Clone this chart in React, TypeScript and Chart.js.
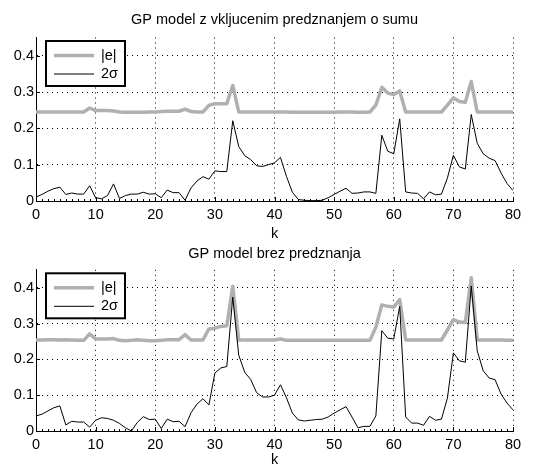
import React, { useEffect, useRef } from "react";
import { Chart, registerables } from "chart.js";

Chart.register(...registerables);

// ---------- data ----------
const kValues: number[] = Array.from({ length: 81 }, (_, i) => i);

const xTicks = [0, 10, 20, 30, 40, 50, 60, 70, 80];
const xTickLabels = ["0", "10", "20", "30", "40", "50", "60", "70", "80"];
const yTicks = [0, 0.1, 0.2, 0.3, 0.4];
const yTickLabels = ["0", "0.1", "0.2", "0.3", "0.4"];

const topTitle = "GP model z vkljucenim predznanjem o sumu";
const bottomTitle = "GP model brez predznanja";
const legendLabels = ["|e|", "2σ"];
const xAxisLabel = "k";

// top plot: |e|
const eTop = [
  0.245, 0.245, 0.245, 0.245, 0.245, 0.245, 0.245, 0.245, 0.245, 0.256,
  0.249, 0.249, 0.249, 0.248, 0.245, 0.244, 0.244, 0.244, 0.244, 0.245,
  0.245, 0.246, 0.247, 0.247, 0.247, 0.253, 0.246, 0.245, 0.245, 0.263,
  0.268, 0.268, 0.268, 0.318, 0.245, 0.245, 0.245, 0.245, 0.245, 0.245,
  0.245, 0.245, 0.245, 0.244, 0.244, 0.244, 0.244, 0.244, 0.244, 0.244,
  0.244, 0.245, 0.245, 0.245, 0.244, 0.244, 0.245, 0.264, 0.313, 0.297,
  0.293, 0.303, 0.245, 0.245, 0.245, 0.245, 0.245, 0.245, 0.245, 0.264,
  0.284, 0.274, 0.272, 0.329, 0.245, 0.245, 0.245, 0.245, 0.245, 0.245,
  0.245,
];
// top plot: 2 sigma
const sTop = [
  0.011, 0.018, 0.027, 0.034, 0.038, 0.018, 0.022, 0.019, 0.019, 0.042,
  0.009, 0.006, 0.015, 0.047, 0.007, 0.015, 0.019, 0.019, 0.024, 0.019,
  0.02, 0.009, 0.03, 0.023, 0.023, 0.002, 0.036, 0.055, 0.067, 0.06,
  0.083, 0.081, 0.081, 0.221, 0.15, 0.125, 0.114, 0.097, 0.095, 0.1,
  0.105, 0.12, 0.068, 0.024, 0.004, 0.002, 0.001, 0.001, 0.002, 0.009,
  0.018, 0.027, 0.035, 0.021, 0.022, 0.025, 0.025, 0.021, 0.181, 0.137,
  0.13, 0.226, 0.025, 0.022, 0.021, 0.006, 0.025, 0.017, 0.019, 0.063,
  0.126, 0.094, 0.088, 0.238, 0.159, 0.13, 0.118, 0.111, 0.077, 0.048,
  0.029,
];
// bottom plot: |e|
const eBottom = [
  0.254, 0.254, 0.255, 0.255, 0.254, 0.255, 0.254, 0.253, 0.253, 0.271,
  0.257, 0.257, 0.257, 0.258, 0.253, 0.252, 0.253, 0.255, 0.253, 0.252,
  0.252, 0.253, 0.255, 0.255, 0.255, 0.269, 0.254, 0.254, 0.254, 0.285,
  0.287, 0.292, 0.294, 0.404, 0.254, 0.254, 0.254, 0.254, 0.254, 0.254,
  0.254, 0.257, 0.253, 0.253, 0.253, 0.253, 0.253, 0.253, 0.253, 0.253,
  0.253, 0.253, 0.253, 0.253, 0.253, 0.253, 0.253, 0.29, 0.352, 0.348,
  0.346, 0.367, 0.254, 0.254, 0.254, 0.254, 0.254, 0.254, 0.254, 0.282,
  0.311, 0.304, 0.303, 0.428, 0.254, 0.254, 0.254, 0.254, 0.254, 0.253,
  0.253,
];
// bottom plot: 2 sigma
const sBottom = [
  0.042, 0.047, 0.056, 0.065, 0.07, 0.017, 0.027, 0.025, 0.025, 0.011,
  0.03, 0.037, 0.035, 0.03, 0.021, 0.009, 0.0, 0.024, 0.04, 0.032,
  0.033, 0.007, 0.033, 0.026, 0.027, 0.012, 0.051, 0.075, 0.09, 0.073,
  0.162, 0.176, 0.18, 0.374, 0.212, 0.164, 0.144, 0.107, 0.095, 0.095,
  0.1, 0.129, 0.093, 0.05, 0.031, 0.028, 0.03, 0.032, 0.033, 0.039,
  0.05, 0.059, 0.068, 0.039, 0.009, 0.013, 0.013, 0.042, 0.28, 0.259,
  0.257, 0.348, 0.039, 0.022, 0.022, 0.016, 0.041, 0.03, 0.033, 0.092,
  0.218, 0.196, 0.192, 0.405, 0.224, 0.168, 0.148, 0.143, 0.103, 0.078,
  0.059,
];

// ---------- style ----------
const FONT = "'Liberation Sans', Arial, Helvetica, sans-serif";
const GRAY = "#b0b0b0";
const FONT_SIZE = 14.5;

const decorPlugin = {
  id: "matlabDecor",
  afterDatasetsDraw(chart: any) {
    const { ctx, chartArea: a, scales } = chart;
    const x = scales.x;
    const y = scales.y;
    ctx.save();
    // inward tick marks
    ctx.strokeStyle = "#000";
    ctx.lineWidth = 1;
    ctx.setLineDash([]);
    ctx.beginPath();
    for (let v = x.min; v <= x.max; v += 1) {
      const px = Math.round(x.getPixelForValue(v)) + 0.5;
      const len = xTicks.includes(v) ? 4 : 2;
      ctx.moveTo(px, a.bottom);
      ctx.lineTo(px, a.bottom - len);
    }
    for (const v of yTicks) {
      const py = Math.round(y.getPixelForValue(v)) + 0.5;
      ctx.moveTo(a.left, py);
      ctx.lineTo(a.left + 4, py);
    }
    ctx.stroke();

    // legend box
    const lx = a.left + 10;
    const ly = a.top + 3.5;
    const w = 79;
    const h = 45;
    ctx.fillStyle = "#fff";
    ctx.fillRect(lx, ly, w, h);
    ctx.lineWidth = 2;
    ctx.strokeStyle = "#000";
    ctx.strokeRect(lx, ly, w, h);
    const rows = [14.5, 33];
    chart.data.datasets.forEach((ds: any, i: number) => {
      const yy = ly + rows[i];
      ctx.strokeStyle = ds.borderColor;
      ctx.lineWidth = ds.borderWidth;
      ctx.beginPath();
      ctx.moveTo(lx + 8, yy);
      ctx.lineTo(lx + 48, yy);
      ctx.stroke();
      ctx.fillStyle = "#000";
      ctx.font = `${FONT_SIZE}px ${FONT}`;
      ctx.textBaseline = "middle";
      ctx.textAlign = "left";
      ctx.fillText(ds.label, lx + 55, yy);
    });
    ctx.restore();
  },
};

type Geom = {
  titleTop: number;
  titleBottom: number;
  xAxisHeight: number;
  kPad: number;
};

function makeConfig(titleText: string, eVals: number[], sVals: number[], g: Geom): any {
  const gridOpts = { color: "#000", lineWidth: 1, drawTicks: false };
  const borderOpts = { display: true, color: "#000", width: 1, dash: [1, 4] };
  const tickFont = { size: FONT_SIZE, family: FONT };
  return {
    type: "line",
    data: {
      datasets: [
        {
          label: legendLabels[0],
          data: kValues.map((k, i) => ({ x: k, y: eVals[i] })),
          borderColor: GRAY,
          borderWidth: 3.5,
          borderJoinStyle: "round",
          pointRadius: 0,
          tension: 0,
          order: 2,
        },
        {
          label: legendLabels[1],
          data: kValues.map((k, i) => ({ x: k, y: sVals[i] })),
          borderColor: "#000",
          borderWidth: 1,
          pointRadius: 0,
          tension: 0,
          order: 1,
        },
      ],
    },
    options: {
      responsive: false,
      animation: false,
      devicePixelRatio: 1,
      events: [],
      layout: { padding: { left: 0, right: 32, top: 0, bottom: 0 } },
      plugins: {
        legend: { display: false },
        tooltip: { enabled: false },
        title: {
          display: true,
          fullSize: false,
          text: titleText,
          color: "#000",
          font: { size: FONT_SIZE, weight: "normal", family: FONT },
          padding: { top: g.titleTop, bottom: g.titleBottom },
        },
      },
      scales: {
        x: {
          type: "linear",
          min: 0,
          max: 80,
          afterBuildTicks: (s: any) => {
            s.ticks = xTicks.map((v) => ({ value: v }));
          },
          afterFit: (s: any) => {
            s.height = g.xAxisHeight;
          },
          ticks: {
            callback: (_v: any, i: number) => xTickLabels[i],
            color: "#000",
            font: tickFont,
            padding: 5.3,
            maxRotation: 0,
            autoSkip: false,
          },
          grid: gridOpts,
          border: borderOpts,
          title: {
            display: true,
            text: xAxisLabel,
            color: "#000",
            font: tickFont,
            padding: { top: 0, bottom: g.kPad },
          },
        },
        y: {
          type: "linear",
          min: 0,
          max: 0.45,
          afterBuildTicks: (s: any) => {
            s.ticks = yTicks.map((v) => ({ value: v }));
          },
          afterFit: (s: any) => {
            s.width = 36;
          },
          ticks: {
            callback: (_v: any, i: number) => yTickLabels[i],
            color: "#000",
            font: tickFont,
            padding: 2,
            autoSkip: false,
          },
          grid: gridOpts,
          border: borderOpts,
        },
      },
    },
    plugins: [decorPlugin],
  };
}

export default function App() {
  const refA = useRef<HTMLCanvasElement>(null);
  const refB = useRef<HTMLCanvasElement>(null);

  useEffect(() => {
    const a = new Chart(
      refA.current as HTMLCanvasElement,
      makeConfig(topTitle, eTop, sTop, { titleTop: 11.3, titleBottom: 8.8, xAxisHeight: 41, kPad: -0.7 })
    );
    const b = new Chart(
      refB.current as HTMLCanvasElement,
      makeConfig(bottomTitle, eBottom, sBottom, { titleTop: 2.8, titleBottom: 7.6, xAxisHeight: 41, kPad: 3.3 })
    );
    return () => {
      a.destroy();
      b.destroy();
    };
  }, []);

  return (
    <div
      style={{
        position: "fixed",
        left: 0,
        top: 0,
        width: 545,
        height: 464,
        overflow: "hidden",
        background: "#fff",
      }}
    >
      <canvas
        ref={refA}
        width={545}
        height={242}
        style={{ position: "absolute", left: 0, top: 0, width: 545, height: 242 }}
      />
      <canvas
        ref={refB}
        width={545}
        height={230}
        style={{ position: "absolute", left: 0, top: 242, width: 545, height: 230 }}
      />
    </div>
  );
}
